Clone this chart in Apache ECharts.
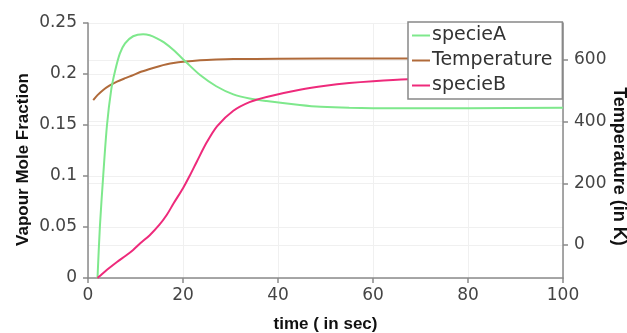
<!DOCTYPE html>
<html>
<head>
<meta charset="utf-8">
<script src="https://cdn.jsdelivr.net/npm/echarts@6/dist/echarts.min.js"></script>
<style>
html,body{margin:0;padding:0;background:#fff;}
#chart{width:627px;height:333px;}
</style>
</head>
<body>
<div id="chart"></div>
<script>
// time (s), value pairs
const specieA = [[2,0],[2.5,0.05],[3.2,0.1],[4.0,0.15],[4.9,0.185],[5.7,0.203],[6.7,0.22],[7.8,0.23],[9.5,0.237],[11.6,0.239],[13,0.238],[14.5,0.235],[16,0.231],[18,0.2235],[20.8,0.211],[23.6,0.199],[27,0.188],[30.6,0.18],[34,0.176],[37.6,0.1735],[44.6,0.1696],[49,0.1678],[55,0.1668],[65,0.1664],[80,0.1665],[100,0.1668]];
const temperature = [[1.1,470],[2,486],[3.2,503],[4.5,517],[6.1,530],[8,542],[9.5,551],[11,561],[13,571],[15,580],[16.6,586],[18,590],[20,594],[23.6,599],[27,601.5],[30.6,603],[40,604],[60,605],[100,605]];
const specieB = [[2,0],[2.5,0.002],[4,0.008],[6.1,0.0157],[8,0.022],[9.5,0.0275],[11,0.034],[13,0.042],[15,0.052],[16.6,0.062],[18,0.073],[20,0.088],[21.5,0.101],[22.9,0.114],[25,0.133],[27.2,0.149],[30.6,0.164],[34,0.1725],[37.6,0.1775],[44.6,0.1845],[50,0.1885],[55,0.1912],[60,0.193],[67.4,0.1948],[80,0.1962],[100,0.197]];
const tempTicks = [0,200,400,600];
const seriesNames = ['specieA','Temperature','specieB'];

const chart = echarts.init(document.getElementById('chart'), null, {renderer:'canvas'});
const axisCol = '#8a8a8a';
const labelStyle = {color:'#444', fontSize:17, fontFamily:'DejaVu Sans'};
const nameStyle = {color:'#111', fontWeight:'bold', fontFamily:'Liberation Sans', fontSize:16};
chart.setOption({
  animation:false,
  backgroundColor:'#fff',
  grid:{left:88, right:64, top:23, bottom:55, containLabel:false, outerBoundsMode:'none'},
  legend:{
    orient:'vertical', left:408, top:22,
    data:seriesNames,
    icon:'rect', itemWidth:18, itemHeight:2, itemGap:6,
    padding:[4,10,4,4],
    backgroundColor:'#fff', borderColor:'#888', borderWidth:1.5,
    textStyle:{color:'#333', fontSize:19, fontFamily:'DejaVu Sans', padding:[0,0,0,-3]}
  },
  xAxis:{
    type:'value', min:0, max:100, interval:20,
    name:'time ( in sec)', nameLocation:'middle', nameGap:38, nameMoveOverlap:false,
    nameTextStyle:Object.assign({},nameStyle,{fontSize:17}),
    axisLine:{show:true, lineStyle:{color:axisCol, width:1.5}},
    axisTick:{show:true, length:5, lineStyle:{color:axisCol, width:1.5}},
    axisLabel:Object.assign({margin:9}, labelStyle),
    splitLine:{show:true, lineStyle:{color:'#f0f0f0', width:1}}
  },
  yAxis:[{
    type:'value', min:0, max:0.25, interval:0.05,
    name:'Vapour Mole Fraction', nameLocation:'middle', nameGap:56, nameMoveOverlap:false,
    nameTextStyle:Object.assign({},nameStyle,{fontSize:17, padding:[0,18,0,0]}),
    axisLine:{show:true, lineStyle:{color:axisCol, width:1.5}},
    axisTick:{show:true, length:5, lineStyle:{color:axisCol, width:1.5}},
    axisLabel:Object.assign({margin:11}, labelStyle),
    splitLine:{show:true, lineStyle:{color:'#f0f0f0', width:1}}
  },{
    type:'value', min:-107, max:720, position:'right',
    name:'Temperature (in K)', nameLocation:'middle', nameGap:47, nameRotate:-90, nameMoveOverlap:false,
    nameTextStyle:Object.assign({},nameStyle,{fontSize:18, padding:[0,0,0,32]}),
    axisLine:{show:true, lineStyle:{color:axisCol, width:1.5}},
    axisTick:{show:true, length:5, customValues:tempTicks, lineStyle:{color:axisCol, width:1.5}},
    axisLabel:Object.assign({margin:11, customValues:tempTicks}, labelStyle),
    splitLine:{show:true, lineStyle:{color:'#f0f0f0', width:1}}
  }],
  series:[
    {name:seriesNames[0], type:'line', yAxisIndex:0, data:specieA, smooth:0.3, showSymbol:false, lineStyle:{color:'#7ee88c', width:2}, itemStyle:{color:'#7ee88c'}, z:3},
    {name:seriesNames[1], type:'line', yAxisIndex:1, data:temperature, smooth:0.3, showSymbol:false, lineStyle:{color:'#b06a3a', width:2}, itemStyle:{color:'#b06a3a'}, z:2},
    {name:seriesNames[2], type:'line', yAxisIndex:0, data:specieB, smooth:0.3, showSymbol:false, lineStyle:{color:'#ee2a7b', width:2}, itemStyle:{color:'#ee2a7b'}, z:3}
  ]
});
</script>
</body>
</html>
